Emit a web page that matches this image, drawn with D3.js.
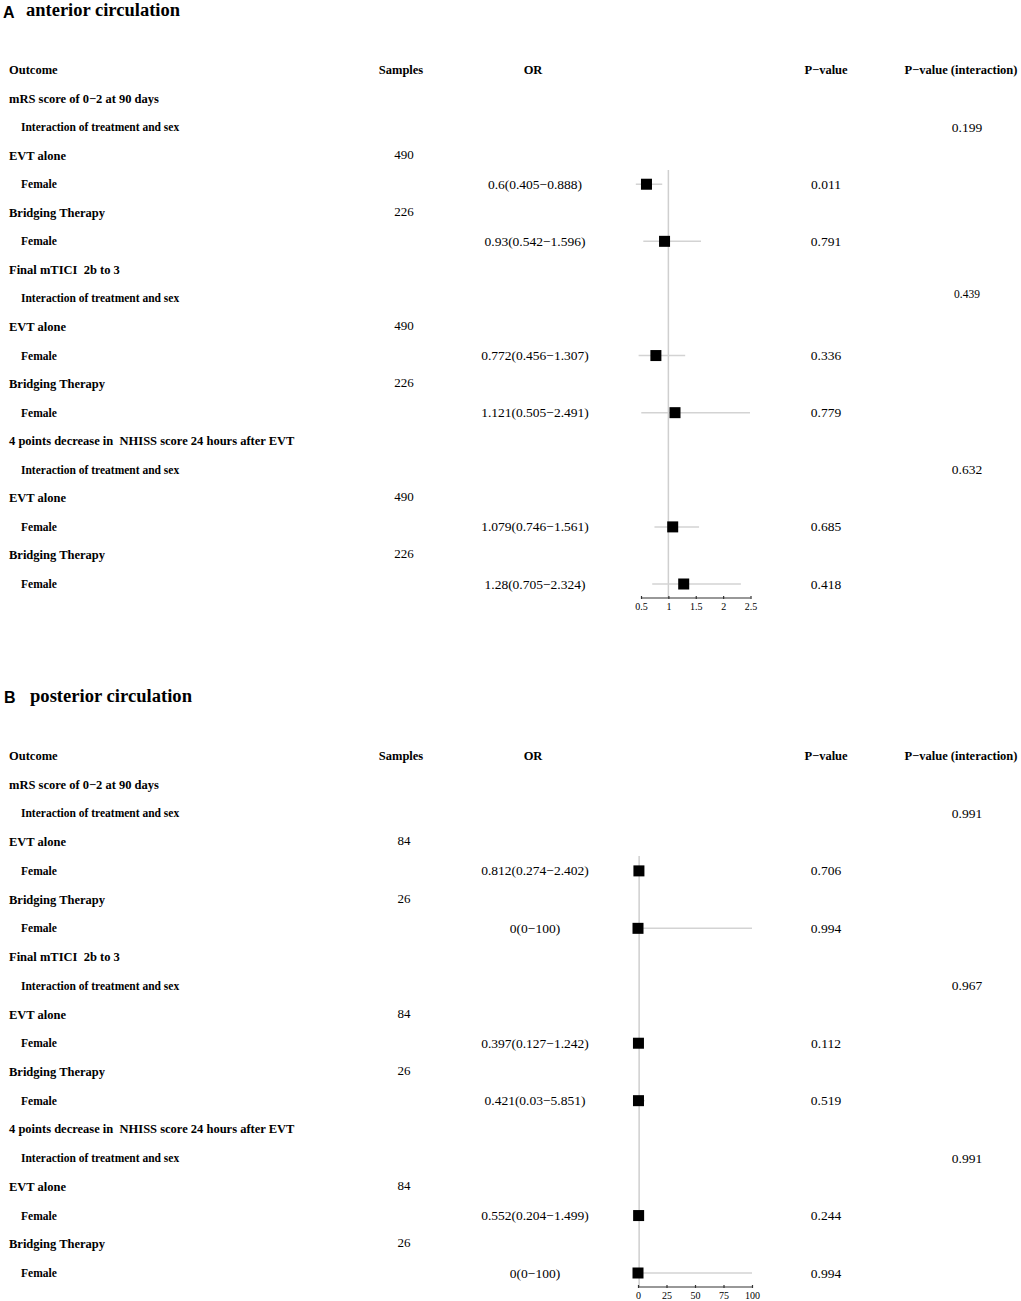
<!DOCTYPE html>
<html><head><meta charset="utf-8">
<script src="https://cdn.jsdelivr.net/npm/d3@7"></script>
<style>body{margin:0;background:#fff}svg{display:block}</style>
</head><body>
<script>
// ---- data ----
const rowLabels = ["Outcome","mRS score of 0\u22122 at 90 days","Interaction of treatment and sex","EVT alone","Female","Bridging Therapy","Female",
 "Final mTICI  2b to 3","Interaction of treatment and sex","EVT alone","Female","Bridging Therapy","Female",
 "4 points decrease in  NHISS score 24 hours after EVT","Interaction of treatment and sex","EVT alone","Female","Bridging Therapy","Female"];
const rowIndent = [0,0,1,0,1,0,1,0,1,0,1,0,1,0,1,0,1,0,1];
const headers = ["Samples","OR","P\u2212value","P\u2212value (interaction)"];

const panelLetters = ["A","B"];
const panelTitles = ["anterior circulation","posterior circulation"];

// rows with estimates (row index)
const estRows = [4,6,10,12,16,18];
const sampleRows = [3,5,9,11,15,17];
const interRows = [2,8,14];

const samplesA = ["490","226","490","226","490","226"];
const orTextA = ["0.6(0.405\u22120.888)","0.93(0.542\u22121.596)","0.772(0.456\u22121.307)","1.121(0.505\u22122.491)","1.079(0.746\u22121.561)","1.28(0.705\u22122.324)"];
const orA = [0.6,0.93,0.772,1.121,1.079,1.28];
const loA = [0.405,0.542,0.456,0.505,0.746,0.705];
const hiA = [0.888,1.596,1.307,2.491,1.561,2.324];
const pA = ["0.011","0.791","0.336","0.779","0.685","0.418"];
const pInterA = ["0.199","0.439","0.632"];
const ticksA = [0.5,1,1.5,2,2.5];

const samplesB = ["84","26","84","26","84","26"];
const orTextB = ["0.812(0.274\u22122.402)","0(0\u2212100)","0.397(0.127\u22121.242)","0.421(0.03\u22125.851)","0.552(0.204\u22121.499)","0(0\u2212100)"];
const orB = [0.812,0,0.397,0.421,0.552,0];
const loB = [0.274,0,0.127,0.03,0.204,0];
const hiB = [2.402,100,1.242,5.851,1.499,100];
const pB = ["0.706","0.994","0.112","0.519","0.244","0.994"];
const pInterB = ["0.991","0.967","0.991"];
const ticksB = [0,25,50,75,100];

// ---- layout ----
const W = 1021, H = 1301;
const svg = d3.select("body").append("svg").attr("width",W).attr("height",H);
const serif = "'Liberation Serif','Times New Roman',serif";
const sans = "'Liberation Sans',Arial,sans-serif";

const panels = [
  {top:0, rows:[70,584], x:[0.5,2.5], xr:[641,750.5], ticks:ticksA, samples:samplesA, orText:orTextA, or:orA, lo:loA, hi:hiA, p:pA, pInter:pInterA, pInterSmall:[false,true,false], lineTop:170, axisY:598, hdrX:[401,533,826,961], valX:[404,535,826,967]},
  {top:684, rows:[756,1273], x:[0,100], xr:[638,752], ticks:ticksB, samples:samplesB, orText:orTextB, or:orB, lo:loB, hi:hiB, p:pB, pInter:pInterB, pInterSmall:[false,false,false], lineTop:856, axisY:1287, hdrX:[401,533,826,961], valX:[404,535,826,967]}
];

panels.forEach((P,pi)=>{
  const g = svg.append("g");
  // panel letter + title
  g.append("text").attr("x",pi===0?3:4).attr("y",P.top+(pi===0?18:19))
    .attr("font-family",sans).attr("font-weight","bold").attr("font-size",16).text(panelLetters[pi]);
  g.append("text").attr("x",pi===0?26:30).attr("y",P.top+(pi===0?16:18))
    .attr("font-family",serif).attr("font-weight","bold").attr("font-size",pi===0?18.5:18.6).text(panelTitles[pi]);

  const y = d3.scalePoint().domain(d3.range(rowLabels.length)).range(P.rows);
  const x = d3.scaleLinear().domain(P.x).range(P.xr);

  // row labels
  g.selectAll("text.lab").data(rowLabels).join("text")
    .attr("x",(d,i)=>rowIndent[i]?21:9).attr("y",(d,i)=>y(i)+4)
    .attr("font-family",serif).attr("font-weight","bold").attr("font-size",(d,i)=>rowIndent[i]?11.5:12.5)
    .attr("xml:space","preserve").style("white-space","pre").text(d=>d);

  // headers
  g.selectAll("text.hdr").data(headers).join("text")
    .attr("x",(d,i)=>P.hdrX[i]).attr("y",y(0)+4).attr("text-anchor","middle")
    .attr("font-family",serif).attr("font-weight","bold").attr("font-size",12.5).text(d=>d);

  // samples
  g.selectAll("text.smp").data(P.samples).join("text")
    .attr("x",P.valX[0]).attr("y",(d,i)=>y(sampleRows[i])+3).attr("text-anchor","middle")
    .attr("font-family",serif).attr("font-size",13).text(d=>d);
  // OR text
  g.selectAll("text.ort").data(P.orText).join("text")
    .attr("x",P.valX[1]).attr("y",(d,i)=>y(estRows[i])+4.5).attr("text-anchor","middle")
    .attr("font-family",serif).attr("font-size",13.5).text(d=>d);
  // p-values
  g.selectAll("text.pv").data(P.p).join("text")
    .attr("x",P.valX[2]).attr("y",(d,i)=>y(estRows[i])+4.5).attr("text-anchor","middle")
    .attr("font-family",serif).attr("font-size",13.5).text(d=>d);
  // p interaction
  g.selectAll("text.pi").data(P.pInter).join("text")
    .attr("x",P.valX[3]).attr("y",(d,i)=>y(interRows[i])+(P.pInterSmall[i]?0:4.5)).attr("text-anchor","middle")
    .attr("font-family",serif).attr("font-size",(d,i)=>P.pInterSmall[i]?11.5:13.5).text(d=>d);

  // reference line at 1
  g.append("line").attr("x1",x(1)).attr("x2",x(1)).attr("y1",P.lineTop).attr("y2",P.axisY)
    .attr("stroke","#cfcfcf").attr("stroke-width",1.5);

  // whiskers
  g.selectAll("line.ci").data(P.or).join("line")
    .attr("x1",(d,i)=>x(P.lo[i])).attr("x2",(d,i)=>x(P.hi[i]))
    .attr("y1",(d,i)=>y(estRows[i])).attr("y2",(d,i)=>y(estRows[i]))
    .attr("stroke","#d3d3d3").attr("stroke-width",1.5);
  // squares
  const s = 11;
  g.selectAll("rect.pt").data(P.or).join("rect")
    .attr("x",d=>x(d)-s/2).attr("y",(d,i)=>y(estRows[i])-s/2)
    .attr("width",s).attr("height",s).attr("fill","#000");

  // axis
  const ax = g.append("g").attr("transform",`translate(0,${P.axisY})`)
    .call(d3.axisBottom(x).tickValues(P.ticks).tickSize(3).tickPadding(2).tickFormat(d=>String(d)));
  ax.select(".domain").attr("stroke","#333").attr("stroke-width",1.2).attr("d",`M${P.xr[0]},0H${P.xr[1]}`);
  ax.selectAll(".tick line").attr("stroke","#333").attr("stroke-width",1.2).attr("y1",-2).attr("y2",1);
  ax.selectAll(".tick text").attr("font-family",serif).attr("font-size",10).attr("fill","#000");
});
</script>
</body></html>
